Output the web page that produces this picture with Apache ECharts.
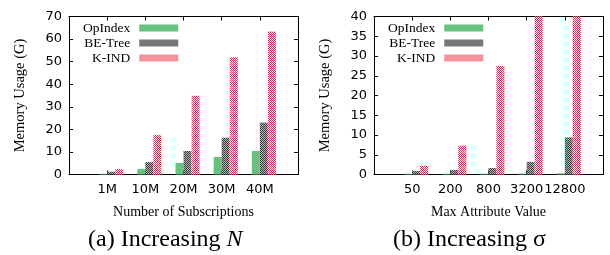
<!DOCTYPE html>
<html>
<head>
<meta charset="utf-8">
<script src="https://cdn.jsdelivr.net/npm/echarts@6/dist/echarts.min.js"></script>
<style>
  html, body { margin: 0; padding: 0; background: #fff; }
  #main { width: 610px; height: 255px; }
</style>
</head>
<body>
<div id="main"></div>
<script>
// (a) 订阅数增加
var catsN = ['1M', '10M', '20M', '30M', '40M'];
var opIndexN = [0.3, 2.5, 5.1, 7.8, 10.4];
var beTreeN = [1.2, 5.5, 10.4, 16.3, 23.0];
var kindN = [2.4, 17.6, 34.9, 51.9, 63.3];
// (b) 属性最大值增加
var catsS = ['50', '200', '800', '3200', '12800'];
var opIndexS = [0.2, 0.2, 0.2, 0.25, 0.3];
var beTreeS = [0.9, 1.15, 1.65, 3.2, 9.4];
var kindS = [2.2, 7.3, 27.5, 105, 410]; // 后两个超出 40，被裁掉
var names = ['OpIndex', 'BE-Tree', 'K-IND'];

var serif = 'Liberation Serif';
var sans = 'DejaVu Sans';

// 纹理填充
function makePattern(size, draw) {
  var c = document.createElement('canvas');
  c.width = size;
  c.height = size;
  draw(c.getContext('2d'));
  return { image: c, repeat: 'repeat' };
}
var grayFill = makePattern(2, function(ctx) {
  ctx.fillStyle = '#b4b4b4';
  ctx.fillRect(0, 0, 2, 2);
  ctx.fillStyle = '#3a3a3a';
  ctx.fillRect(0, 0, 1, 1);
  ctx.fillRect(1, 1, 1, 1);
});
var redFill = makePattern(2, function(ctx) {
  ctx.fillStyle = '#ffffff';
  ctx.fillRect(0, 0, 2, 2);
  ctx.fillStyle = '#e8283a';
  ctx.fillRect(0, 0, 1, 1);
  ctx.fillRect(1, 1, 1, 1);
});
var colors = ['#66c27f', grayFill, redFill];

// 两端留空的类目
function pad(arr) {
  return [''].concat(arr, ['']);
}
function padData(arr) {
  return ['-'].concat(arr, ['-']);
}

var grids = [{ left: 69, top: 16.5, width: 229, height: 158 },
             { left: 374, top: 16.5, width: 229, height: 158 }];

var xAxis = [], yAxis = [], series = [], legend = [];
[[catsN, 'Number of Subscriptions', 70, 10, [opIndexN, beTreeN, kindN]],
 [catsS, 'Max Attribute Value', 40, 5, [opIndexS, beTreeS, kindS]]].forEach(function(cfg, g) {
  xAxis.push({
    type: 'category', gridIndex: g, data: pad(cfg[0]), boundaryGap: false,
    name: cfg[1], nameLocation: 'middle', nameGap: 31,
    nameTextStyle: { fontFamily: serif, fontSize: 14, color: '#000' },
    axisLine: { onZero: false, lineStyle: { color: '#000', width: 1 } },
    axisTick: { inside: true, length: 4, interval: 0, lineStyle: { color: '#000' } },
    axisLabel: { interval: 0, margin: 9, fontFamily: sans, fontSize: 13, color: '#000', hideOverlap: false },
    splitLine: { show: false }
  }, {
    type: 'category', gridIndex: g, data: pad(cfg[0]), boundaryGap: false, position: 'top',
    axisLine: { onZero: false, lineStyle: { color: '#000', width: 1 } },
    axisTick: { inside: true, length: 4, interval: 0, lineStyle: { color: '#000' } },
    axisLabel: { show: false },
    splitLine: { show: false }
  });
  yAxis.push({
    type: 'value', gridIndex: g, min: 0, max: cfg[2], interval: cfg[3],
    name: 'Memory Usage (G)', nameLocation: 'middle', nameGap: 41,
    nameTextStyle: { fontFamily: serif, fontSize: 14.5, color: '#000' },
    axisLine: { show: true, lineStyle: { color: '#000', width: 1 } },
    axisTick: { show: true, inside: true, length: 4, lineStyle: { color: '#000' } },
    axisLabel: { margin: 7, fontFamily: sans, fontSize: 13, color: '#000' },
    splitLine: { show: false }
  }, {
    type: 'value', gridIndex: g, min: 0, max: cfg[2], interval: cfg[3], position: 'right',
    axisLine: { show: true, lineStyle: { color: '#000', width: 1 } },
    axisTick: { show: true, inside: true, length: 4, lineStyle: { color: '#000' } },
    axisLabel: { show: false },
    splitLine: { show: false }
  });
  // gnuplot 的簇间空隙在左侧，用一个空系列占位
  series.push({
    name: 'pad', type: 'bar', xAxisIndex: g * 2, yAxisIndex: g * 2,
    barWidth: 8, barGap: '0%', silent: true,
    itemStyle: { color: 'rgba(0,0,0,0)' },
    data: padData(cfg[0].map(function() { return 0; }))
  });
  cfg[4].forEach(function(vals, i) {
    series.push({
      name: names[i], type: 'bar', xAxisIndex: g * 2, yAxisIndex: g * 2,
      barWidth: 8, barGap: '0%', clip: true,
      itemStyle: { color: colors[i] },
      data: padData(vals)
    });
  });
  legend.push({
    data: names, orient: 'vertical', align: 'right', padding: 0,
    left: grids[g].left + 14, top: 21, icon: 'rect',
    itemWidth: 39, itemHeight: 7, itemGap: 1,
    selectedMode: false,
    textStyle: { fontFamily: serif, fontSize: 13.5, color: '#000', width: 56, align: 'right', padding: [0, 4, 0, 0] }
  });
});

var chart = echarts.init(document.getElementById('main'));
chart.setOption({
  animation: false,
  backgroundColor: '#fff',
  grid: grids,
  xAxis: xAxis,
  yAxis: yAxis,
  legend: legend,
  series: series,
  graphic: [{
    type: 'text', left: 88, top: 228,
    style: {
      text: '(a) Increasing {i|N}', fill: '#000',
      fontFamily: serif, fontSize: 24,
      rich: { i: { fontStyle: 'italic', fontSize: 24, fontFamily: serif } }
    }
  }, {
    type: 'text', left: 393, top: 228,
    style: { text: '(b) Increasing σ', fill: '#000', fontFamily: serif, fontSize: 24 }
  }]
});
</script>
</body>
</html>
